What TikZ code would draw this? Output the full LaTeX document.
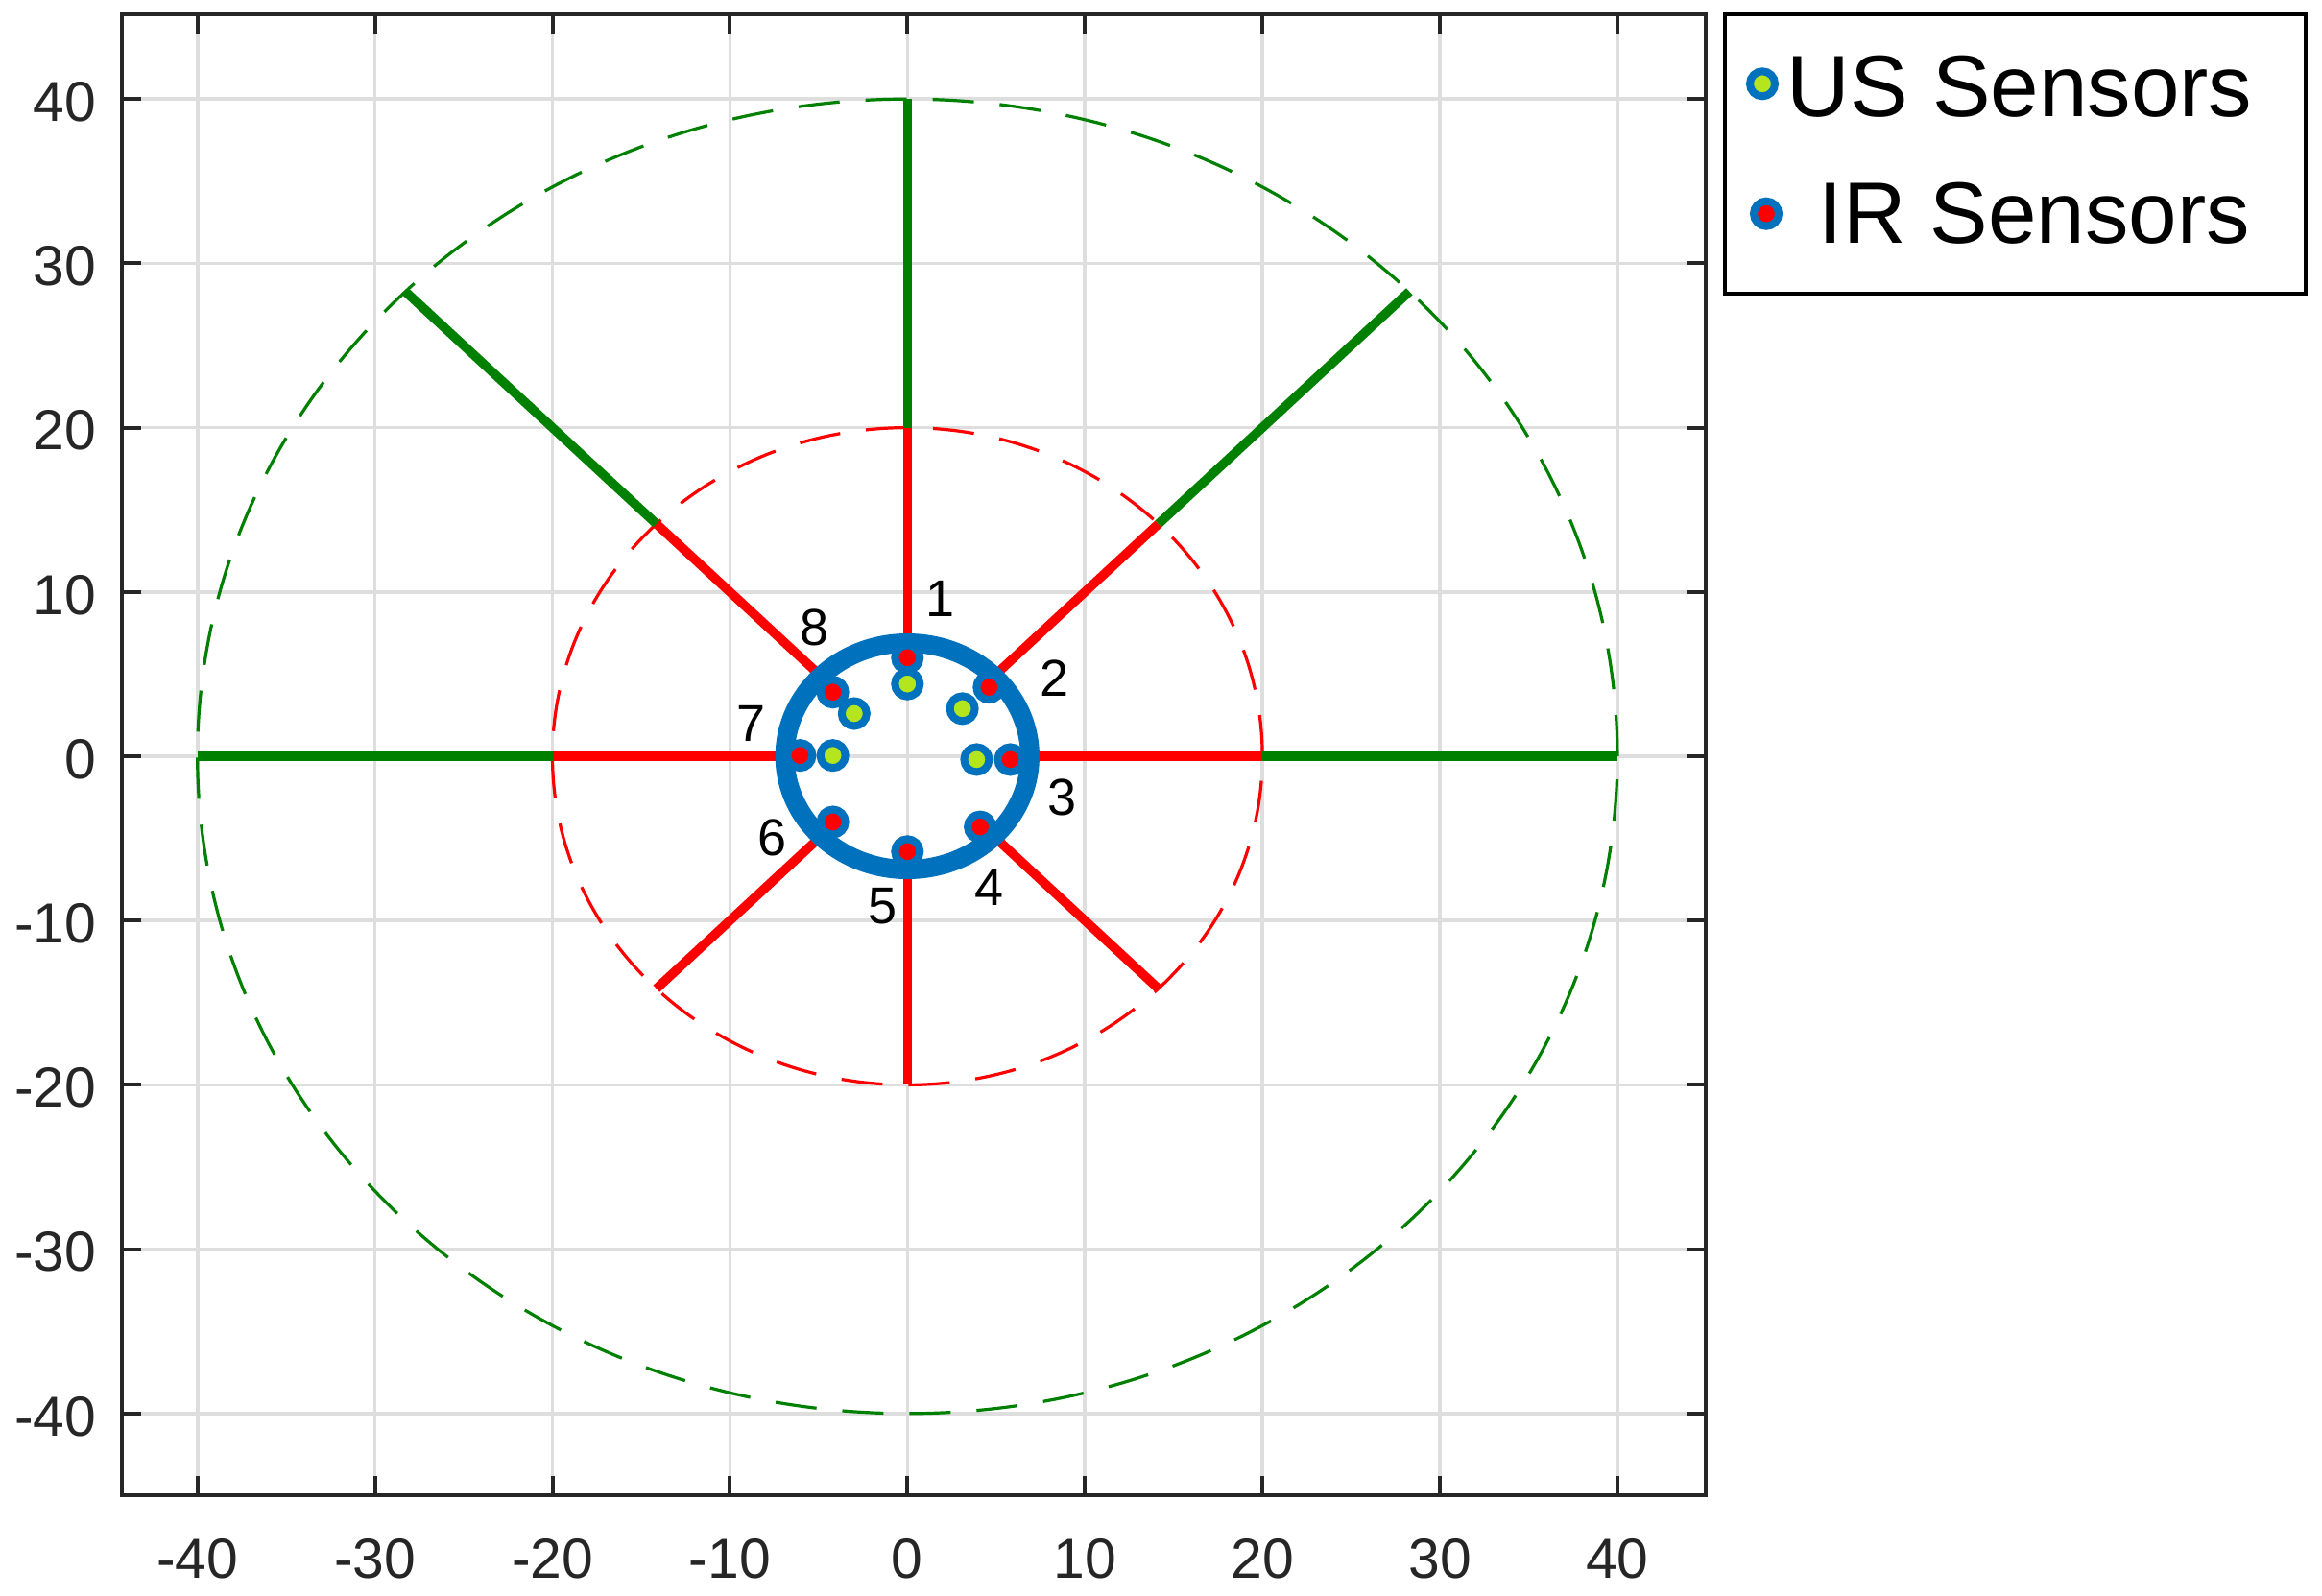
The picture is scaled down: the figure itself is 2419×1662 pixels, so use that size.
\documentclass[tikz,border=0pt]{standalone}
\usepackage{fontspec}
\setmainfont{Liberation Sans}
\definecolor{gridgray}{RGB}{222,222,222}
\definecolor{axgray}{RGB}{38,38,38}
\definecolor{dgreen}{RGB}{0,128,0}
\definecolor{mblue}{RGB}{0,114,189}
\definecolor{usgreen}{RGB}{181,230,29}
\begin{document}
\begin{tikzpicture}[x=0.25pt,y=-0.25pt,
  gridc/.style={draw=gridgray, line width=0.9pt},
  axline/.style={draw=axgray, line width=1.1pt},
  tickmark/.style={draw=axgray, line width=1pt},
  ticklab/.style={text=axgray, font=\fontsize{14.7}{16}\selectfont, inner sep=0pt},
  numlab/.style={text=black, font=\fontsize{13.5}{15}\selectfont, inner sep=0pt},
  rangecirc/.style={dash pattern=on 10.75pt off 6.75pt, line width=0.8pt},
  spoke/.style={line width=2.4pt},
  irmark/.style={circle, draw=mblue, fill=red, line width=2pt, minimum size=6.5pt, inner sep=0pt},
  usmark/.style={circle, draw=mblue, fill=usgreen, line width=2pt, minimum size=6.5pt, inner sep=0pt},
  legtext/.style={text=black, font=\fontsize{22.7}{24}\selectfont, inner sep=0pt, anchor=base west},
  legbox/.style={draw=black, line width=0.85pt}
]
\useasboundingbox[fill=white] (0,0) rectangle (2419,1662);

% grid, ticks, tick labels
\foreach \v in {-40,-30,...,40}{
  \pgfmathsetmacro\px{945.3+18.49*\v}
  \pgfmathsetmacro\py{788-17.12*\v}
  \draw[gridc] (\px,15) -- (\px,1558);
  \draw[gridc] (126.7,\py) -- (1776.7,\py);
  \draw[tickmark] (\px,1558) -- (\px,1538);
  \draw[tickmark] (\px,15) -- (\px,35);
  \draw[tickmark] (126.7,\py) -- (146.7,\py);
  \draw[tickmark] (1776.7,\py) -- (1756.7,\py);
  \node[ticklab] (xl\v) at (\px,1624) {\v};
  \node[ticklab, anchor=east] (yl\v) at (101,\py+3) {\v};
}

\coordinate (c) at (945.3,788);

% range circles
\draw[rangecirc, draw=dgreen] (c) ellipse [x radius=184.9pt, y radius=171.2pt];
\draw[rangecirc, draw=red] (c) ellipse [x radius=92.45pt, y radius=85.6pt];

\begin{scope}[shift={(c)}, x=4.6225pt, y=4.28pt]
  \foreach \k/\a in {1/90,2/45,3/0,4/-45,5/-90,6/-135,7/180,8/135}{
    \coordinate (s\k i) at (\a:6.5);
    \coordinate (s\k m) at (\a:20);
    \coordinate (s\k o) at (\a:40);
    \draw[spoke, draw=red] (s\k i) -- (s\k m);
  }
  \foreach \k in {1,2,3,7,8}{
    \draw[spoke, draw=dgreen] (s\k m) -- (s\k o);
  }
  % robot body
  \draw[draw=mblue, line width=5pt] (0,0) ellipse [x radius=31.9pt, y radius=29.5pt];
  % IR sensors
  \node[irmark] (ir1) at (0,6.0) {};
  \node[irmark] (ir2) at (4.6,4.2) {};
  \node[irmark] (ir3) at (5.8,-0.2) {};
  \node[irmark] (ir4) at (4.1,-4.3) {};
  \node[irmark] (ir5) at (0,-5.8) {};
  \node[irmark] (ir6) at (-4.2,-4.0) {};
  \node[irmark] (ir7) at (-6.05,0.05) {};
  \node[irmark] (ir8) at (-4.2,3.9) {};
  % US sensors
  \node[usmark] (us1) at (0,4.4) {};
  \node[usmark] (us2) at (3.1,2.9) {};
  \node[usmark] (us3) at (3.9,-0.2) {};
  \node[usmark] (us7) at (-4.2,0.05) {};
  \node[usmark] (us8) at (-3.0,2.6) {};
\end{scope}

% sensor numbers
\node[numlab] (n1) at (980,624) {1};
\node[numlab] (n2) at (1098.5,707) {2};
\node[numlab] (n3) at (1106.7,830.5) {3};
\node[numlab] (n4) at (1031,925) {4};
\node[numlab] (n5) at (919.4,944) {5};
\node[numlab] (n6) at (805,873) {6};
\node[numlab] (n7) at (783,754) {7};
\node[numlab] (n8) at (849,654) {8};

% axes box
\draw[axline] (126.7,15) rectangle (1776.7,1558);

% legend
\draw[legbox] (1797,15) rectangle (2402,306);
\node[usmark] (lus) at (1836,87.3) {};
\node[irmark] (lir) at (1840,222.7) {};
\node[legtext] (tus) at (1861,121.7) {US Sensors};
\node[legtext] (tir) at (1894,253.3) {IR Sensors};
\end{tikzpicture}
\end{document}
